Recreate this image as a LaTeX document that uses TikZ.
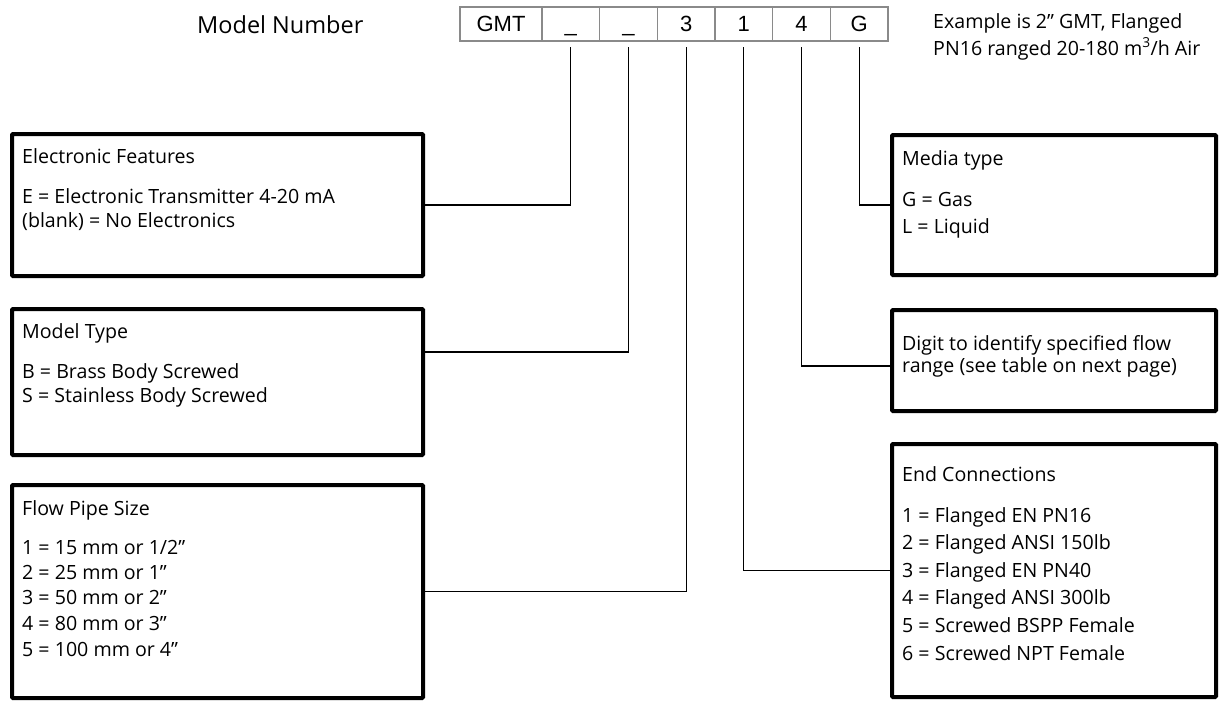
\documentclass[tikz,border=0pt]{standalone}
\usepackage{fontspec}
\setmainfont{Open Sans}
\newfontfamily\cellfont{Liberation Sans}
\definecolor{cellgray}{HTML}{8A8A8A}
\begin{document}
\begin{tikzpicture}[x=1pt,y=-1pt,
  cellbox/.style={draw=cellgray,line width=1.6pt,minimum height=34pt,inner sep=0pt,
    text height=16pt,text depth=2pt,font=\cellfont\fontsize{22}{26}\selectfont},
  infobox/.style={draw=black,line width=4pt,rounded corners=1pt},
  txt/.style={anchor=base west,inner sep=0pt,font=\fontsize{19.6}{23}\selectfont},
  conn/.style={draw=black,line width=1.3pt}]
\useasboundingbox (0,0) rectangle (1221,702);
% model number row
\node[anchor=base west,inner sep=0pt,font=\fontsize{23.5}{28}\selectfont] (mn) at (197,33) {Model Number};
\node[cellbox,minimum width=82pt] (c1) at (501,24) {GMT};
\node[cellbox,minimum width=57.7pt] (c2) at (570.8,24) {\_};
\node[cellbox,minimum width=57.7pt] (c3) at (628.5,24) {\_};
\node[cellbox,minimum width=57.7pt] (c4) at (686.2,24) {3};
\node[cellbox,minimum width=57.7pt] (c5) at (743.8,24) {1};
\node[cellbox,minimum width=57.7pt] (c6) at (801.5,24) {4};
\node[cellbox,minimum width=57.7pt] (c7) at (859.2,24) {G};
\node[anchor=base west,inner sep=0pt,font=\fontsize{19.6}{22}\selectfont] (ex1) at (933,28) {Example is 2” GMT, Flanged};
\node[anchor=base west,inner sep=0pt,font=\fontsize{19.6}{22}\selectfont] (ex2) at (933,55) {PN16 ranged 20-180 m\textsuperscript{3}/h Air};
% connector start points
\coordinate (s2) at (c2.south |- 0,47);
\coordinate (s3) at (c3.south |- 0,47);
\coordinate (s4) at (c4.south |- 0,47);
\coordinate (s5) at (c5.south |- 0,47);
\coordinate (s6) at (c6.south |- 0,47);
\coordinate (s7) at (c7.south |- 0,47);
% left boxes
\node[inner sep=0pt,minimum width=411pt,minimum height=142pt] (ebox) at (217.5,205) {};
\node[inner sep=0pt,minimum width=411pt,minimum height=146pt] (mbox) at (217.5,382) {};
\node[inner sep=0pt,minimum width=411pt,minimum height=213pt] (fbox) at (217.5,591.5) {};
\draw[infobox] (12,134) rectangle (423,276);
\draw[infobox] (12,309) rectangle (423,455);
\draw[infobox] (12,485) rectangle (423,698);
% right boxes
\node[inner sep=0pt,minimum width=324pt,minimum height=140pt] (gbox) at (1054,205) {};
\node[inner sep=0pt,minimum width=324pt,minimum height=101pt] (dbox) at (1054,360.5) {};
\node[inner sep=0pt,minimum width=324pt,minimum height=253pt] (cbox) at (1054,570.5) {};
\draw[infobox] (892,135) rectangle (1216,275);
\draw[infobox] (892,310) rectangle (1216,411);
\draw[infobox] (892,444) rectangle (1216,697);
% texts left
\node[txt] (e0) at (22,163) {Electronic Features};
\node[txt] (e1) at (22,203) {E = Electronic Transmitter 4-20 mA};
\node[txt] (e2) at (22,227) {(blank) = No Electronics};
\node[txt] (m0) at (22,338) {Model Type};
\node[txt] (m1) at (22,378) {B = Brass Body Screwed};
\node[txt] (m2) at (22,402) {S = Stainless Body Screwed};
\node[txt] (f0) at (22,515) {Flow Pipe Size};
\node[txt] (f1) at (22,554) {1 = 15 mm or 1/2”};
\node[txt] (f2) at (22,579) {2 = 25 mm or 1”};
\node[txt] (f3) at (22,604) {3 = 50 mm or 2”};
\node[txt] (f4) at (22,630) {4 = 80 mm or 3”};
\node[txt] (f5) at (22,656) {5 = 100 mm or 4”};
% texts right
\node[txt] (g0) at (902,165) {Media type};
\node[txt] (g1) at (902,206) {G = Gas};
\node[txt] (g2) at (902,233) {L = Liquid};
\node[txt] (d1) at (902,350) {Digit to identify specified flow};
\node[txt] (d2) at (902,372) {range (see table on next page)};
\node[txt] (k0) at (902,481) {End Connections};
\node[txt] (k1) at (902,522) {1 = Flanged EN PN16};
\node[txt] (k2) at (902,549) {2 = Flanged ANSI 150lb};
\node[txt] (k3) at (902,577) {3 = Flanged EN PN40};
\node[txt] (k4) at (902,604) {4 = Flanged ANSI 300lb};
\node[txt] (k5) at (902,632) {5 = Screwed BSPP Female};
\node[txt] (k6) at (902,660) {6 = Screwed NPT Female};
% connectors
\draw[conn] (s2) |- (ebox.east);
\draw[conn] (s3) |- (mbox.east |- 0,352);
\draw[conn] (s4) |- (fbox.east);
\draw[conn] (s5) |- (cbox.west);
\draw[conn] (s6) |- (dbox.west |- 0,366);
\draw[conn] (s7) |- (gbox.west);
\end{tikzpicture}
\end{document}
